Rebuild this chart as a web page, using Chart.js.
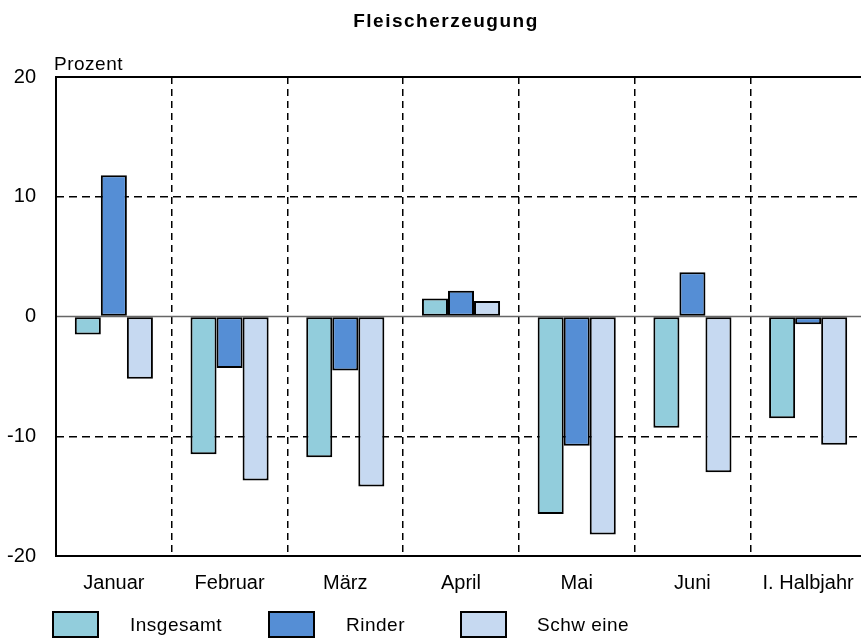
<!DOCTYPE html>
<html>
<head>
<meta charset="utf-8">
<script src="https://cdn.jsdelivr.net/npm/chart.js@4/dist/chart.umd.min.js"></script>
<style>
  html, body { margin: 0; padding: 0; background: #fff; overflow: hidden; }
  #wrap { width: 880px; height: 640px; }
</style>
</head>
<body>
<div id="wrap"><canvas id="chart" width="880" height="640"></canvas></div>
<script>
// data
const months = ["Januar", "Februar", "März", "April", "Mai", "Juni", "I. Halbjahr"];
const insgesamt = [-1.5, -11.5, -11.75, 1.5, -16.5, -9.3, -8.5];
const rinder = [11.8, -4.3, -4.5, 2.15, -10.8, 3.7, -0.65];
const schweine = [-5.2, -13.7, -14.2, 1.3, -18.2, -13.0, -10.7];
const seriesNames = ["Insgesamt", "Rinder", "Schw eine"];
const seriesColors = ["#92CDDC", "#558ED5", "#C6D9F1"];
const yTicks = [-20, -10, 0, 10, 20];

const FONT = "'Liberation Sans', Arial, sans-serif";

// frame, zero line, title, unit label and legend
const decorations = {
  id: "decorations",
  beforeDatasetsDraw(chart) {
    const { ctx, chartArea, scales } = chart;
    const y0 = scales.y.getPixelForValue(0);
    ctx.save();
    ctx.strokeStyle = "#666";
    ctx.lineWidth = 1.5;
    ctx.beginPath();
    ctx.moveTo(chartArea.left, y0);
    ctx.lineTo(chartArea.right, y0);
    ctx.stroke();
    ctx.restore();
  },
  afterDraw(chart) {
    const { ctx, chartArea } = chart;
    ctx.save();
    ctx.strokeStyle = "#000";
    ctx.lineWidth = 2;
    ctx.beginPath();
    ctx.moveTo(chartArea.right, chartArea.top);
    ctx.lineTo(chartArea.left, chartArea.top);
    ctx.lineTo(chartArea.left, chartArea.bottom);
    ctx.lineTo(chartArea.right, chartArea.bottom);
    ctx.stroke();

    ctx.fillStyle = "#000";
    ctx.textBaseline = "middle";
    ctx.font = "bold 19px " + FONT;
    ctx.textAlign = "center";
    ctx.letterSpacing = "1.5px";
    ctx.fillText("Fleischerzeugung", 446, 22);
    ctx.letterSpacing = "0.5px";

    ctx.textAlign = "left";
    ctx.font = "19px " + FONT;
    ctx.fillText("Prozent", 54, 65);

    const boxX = [53, 269, 461];
    const textX = [130, 346, 537];
    chart.data.datasets.forEach((ds, i) => {
      ctx.fillStyle = ds.backgroundColor;
      ctx.fillRect(boxX[i], 612, 45, 25);
      ctx.lineWidth = 2;
      ctx.strokeStyle = "#000";
      ctx.strokeRect(boxX[i], 612, 45, 25);
      ctx.fillStyle = "#000";
      ctx.fillText(ds.label, textX[i], 626);
    });
    ctx.restore();
  }
};

new Chart(document.getElementById("chart"), {
  type: "bar",
  data: {
    labels: months,
    datasets: [
      { label: seriesNames[0], data: insgesamt, backgroundColor: seriesColors[0] },
      { label: seriesNames[1], data: rinder, backgroundColor: seriesColors[1] },
      { label: seriesNames[2], data: schweine, backgroundColor: seriesColors[2] }
    ]
  },
  options: {
    responsive: false,
    animation: false,
    devicePixelRatio: 1,
    layout: { padding: { top: 77, right: 14, bottom: 0, left: 0 } },
    datasets: {
      bar: {
        borderColor: "#000",
        borderWidth: 2,
        borderSkipped: false,
        categoryPercentage: 0.675,
        barPercentage: 1
      }
    },
    plugins: {
      legend: { display: false },
      title: { display: false },
      tooltip: { enabled: false }
    },
    scales: {
      x: {
        offset: true,
        afterFit(scale) { scale.height = 84; },
        grid: {
          offset: true,
          drawTicks: false,
          color: (c) => (c.index === 0 ? "rgba(0,0,0,0)" : "#000"),
          lineWidth: 1.5
        },
        border: { display: false, dash: [7, 5] },
        ticks: { color: "#000", font: { family: FONT, size: 20 }, padding: 15, maxRotation: 0 }
      },
      y: {
        min: -20,
        max: 20,
        afterFit(scale) { scale.width = 56; },
        afterBuildTicks(scale) { scale.ticks = yTicks.map(v => ({ value: v })); },
        grid: {
          drawTicks: false,
          color: (c) => (Math.abs(c.tick.value) === 10 ? "#000" : "rgba(0,0,0,0)"),
          lineWidth: 1.5
        },
        border: { display: false, dash: [8, 5] },
        ticks: { color: "#000", font: { family: FONT, size: 20 }, padding: 20 }
      }
    }
  },
  plugins: [decorations]
});
</script>
</body>
</html>
